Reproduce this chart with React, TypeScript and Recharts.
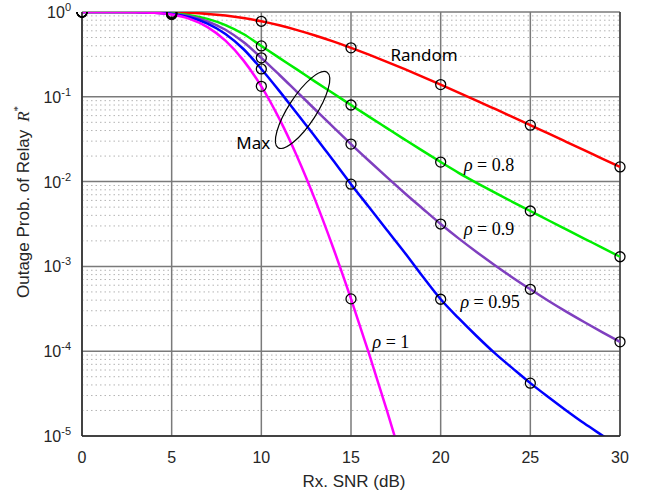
import React from "react";
import {
  ComposedChart,
  Line,
  Scatter,
  XAxis,
  YAxis,
  CartesianGrid,
  ReferenceLine,
  ReferenceDot,
  Customized,
} from "recharts";

// Rx. SNR in dB
const snr = [
  0, 1, 2, 3, 4, 5, 6, 7, 8, 9, 10, 11, 12, 13, 14, 15, 16, 17, 18, 19, 20,
  21, 22, 23, 24, 25, 26, 27, 28, 29, 30,
];

const randomP = [
  1, 1, 0.9999, 0.9995, 0.9974, 0.9913, 0.9769, 0.9499, 0.9072, 0.8487, 0.7769,
  0.6962, 0.6119, 0.5285, 0.4497, 0.3777, 0.3139, 0.2586, 0.2116, 0.1721,
  0.1393, 0.1123, 0.0903, 0.0724, 0.058, 0.0463, 0.037, 0.0295, 0.0235,
  0.0187, 0.0149,
];

const rho08 = [
  1, 1, 1, 0.998, 0.991, 0.966, 0.918, 0.83, 0.701, 0.55, 0.398, 0.288, 0.209,
  0.151, 0.11, 0.08, 0.0583, 0.0427, 0.0313, 0.023, 0.017, 0.0127, 0.00968,
  0.00745, 0.00578, 0.0045, 0.0035, 0.00273, 0.00213, 0.00167, 0.0013,
];

const rho09 = [
  1, 1, 1, 0.997, 0.987, 0.955, 0.891, 0.776, 0.617, 0.442, 0.288, 0.182,
  0.1135, 0.0708, 0.0442, 0.0277, 0.0176, 0.01127, 0.00729, 0.00479, 0.00316,
  0.00214, 0.00148, 0.00104, 0.000741, 0.000537, 0.000394, 0.000293, 0.000221,
  0.000168, 0.000129,
];

const rho095 = [
  1, 1, 1, 0.997, 0.984, 0.948, 0.867, 0.731, 0.551, 0.366, 0.213, 0.1175,
  0.0631, 0.0339, 0.0178, 0.00933, 0.00501, 0.00269, 0.00145, 0.000759,
  0.00041, 0.000245, 0.000151, 0.0000955, 0.0000631, 0.000042, 0.0000288,
  0.00002, 0.0000141, 0.0000102, 0.0000074,
];

const rho1 = [
  1, 1, 0.9994, 0.9957, 0.9798, 0.933, 0.829, 0.663, 0.459, 0.269, 0.1328,
  0.0552, 0.01965, 0.00609, 0.00167, 0.000414, 0.000094, 0.00002, 0.000004,
];

// simulation points (circles)
const markerSnr = [0, 5, 10, 15, 20, 25, 30];
const markerRandom = [1, 0.9913, 0.7769, 0.3777, 0.1393, 0.0463, 0.0149];
const markerRho08 = [1, 0.966, 0.398, 0.08, 0.017, 0.0045, 0.0013];
const markerRho09 = [1, 0.955, 0.288, 0.0277, 0.00316, 0.000537, 0.000129];
const markerRho095 = [1, 0.948, 0.213, 0.00933, 0.00041, 0.000042];
const markerRho1 = [1, 0.933, 0.1328, 0.000414];

const xTicks = [0, 5, 10, 15, 20, 25, 30];
const yTicks = [1e-5, 1e-4, 1e-3, 1e-2, 1e-1, 1];
const minorY = [
  2e-5, 3e-5, 4e-5, 5e-5, 6e-5, 7e-5, 8e-5, 9e-5,
  2e-4, 3e-4, 4e-4, 5e-4, 6e-4, 7e-4, 8e-4, 9e-4,
  2e-3, 3e-3, 4e-3, 5e-3, 6e-3, 7e-3, 8e-3, 9e-3,
  2e-2, 3e-2, 4e-2, 5e-2, 6e-2, 7e-2, 8e-2, 9e-2,
  0.2, 0.3, 0.4, 0.5, 0.6, 0.7, 0.8, 0.9,
];

const rhoLabels = [
  { x: 21.3, y: 0.0157, text: "0.8" },
  { x: 21.3, y: 0.00276, text: "0.9" },
  { x: 21.1, y: 0.00038, text: "0.95" },
  { x: 16.2, y: 0.000128, text: "1" },
];

const data = snr.map((s, i) => ({
  snr: s,
  random: randomP[i],
  rho08: rho08[i],
  rho09: rho09[i],
  rho095: rho095[i],
  rho1: i < rho1.length ? rho1[i] : null,
}));

const toPoints = (vals: number[]) =>
  vals.map((p, i) => ({ snr: markerSnr[i], p }));

const sansFont = "'Liberation Sans', Arial, sans-serif";
const serifFont = "'Liberation Serif', 'Times New Roman', serif";

const circle = (props: any) => (
  <circle cx={props.cx} cy={props.cy} r={5} fill="none" stroke="#000" strokeWidth={1.3} />
);

const YTick = (props: any) => {
  const { x, y, payload } = props;
  const e = Math.round(Math.log10(payload.value));
  return (
    <text x={x - 3} y={y + 6} textAnchor="end" fontFamily={sansFont} fontSize={16} fill="#262626">
      <tspan>10</tspan>
      <tspan dy={-7} fontSize={11}>{e}</tspan>
    </text>
  );
};

const XTick = (props: any) => {
  const { x, y, payload } = props;
  return (
    <text x={x} y={y + 19} textAnchor="middle" fontFamily={sansFont} fontSize={16} fill="#262626">
      {payload.value}
    </text>
  );
};

const series = [
  { key: "random", color: "#ff0000", markers: markerRandom },
  { key: "rho08", color: "#00ee00", markers: markerRho08 },
  { key: "rho09", color: "#7f3fbf", markers: markerRho09 },
  { key: "rho095", color: "#0000ff", markers: markerRho095 },
  { key: "rho1", color: "#ff00ff", markers: markerRho1 },
];

export default function App() {
  return (
    <div style={{ position: "absolute", left: 0, top: 0, background: "#fff" }}>
      <ComposedChart
        width={647}
        height={492}
        data={data}
        margin={{ top: 12, right: 27, left: 0, bottom: 0 }}
      >
        <CartesianGrid stroke="#7a7a7a" strokeWidth={1.5} />
        {minorY.map((v) => (
          <ReferenceLine key={v} y={v} stroke="#b4b4b4" strokeDasharray="1.5 3" />
        ))}
        <XAxis
          dataKey="snr"
          type="number"
          domain={[0, 30]}
          ticks={xTicks}
          tick={<XTick />}
          tickLine={false}
          axisLine={{ stroke: "#262626", strokeWidth: 1.5 }}
          height={56}
        />
        <YAxis
          type="number"
          scale="log"
          domain={[1e-5, 1]}
          allowDataOverflow
          ticks={yTicks}
          tick={<YTick />}
          tickLine={false}
          axisLine={{ stroke: "#262626", strokeWidth: 1.5 }}
          width={82}
        />
        <ReferenceLine x={30} stroke="#404040" strokeWidth={1.5} />
        {series.map((s) => (
          <Line
            key={s.key}
            dataKey={s.key}
            type="monotone"
            stroke={s.color}
            strokeWidth={2.5}
            dot={false}
            activeDot={false}
            connectNulls={false}
            isAnimationActive={false}
          />
        ))}
        {series.map((s) => (
          <Scatter
            key={s.key + "-m"}
            data={toPoints(s.markers)}
            dataKey="p"
            shape={circle}
            isAnimationActive={false}
          />
        ))}
        <ReferenceDot
          x={17.2}
          y={0.31}
          r={0}
          shape={(p: any) => (
            <text x={p.cx} y={p.cy + 6} fontFamily="'Noto Sans', sans-serif" fontSize={17} fill="#000">
              Random
            </text>
          )}
        />
        <ReferenceDot
          x={8.6}
          y={0.0285}
          r={0}
          shape={(p: any) => (
            <text x={p.cx} y={p.cy + 6} fontFamily="'Noto Sans', sans-serif" fontSize={17} fill="#000">
              Max
            </text>
          )}
        />
        <ReferenceDot
          x={12.3}
          y={0.07}
          r={0}
          shape={(p: any) => (
            <ellipse
              cx={p.cx}
              cy={p.cy}
              rx={45}
              ry={14}
              fill="none"
              stroke="#000"
              strokeWidth={1.2}
              transform={`rotate(-57 ${p.cx} ${p.cy})`}
            />
          )}
        />
        {rhoLabels.map((l) => (
          <ReferenceDot
            key={l.text}
            x={l.x}
            y={l.y}
            r={0}
            shape={(p: any) => (
              <text x={p.cx} y={p.cy + 6} fontFamily={serifFont} fontSize={18} fill="#000">
                <tspan fontStyle="italic">ρ</tspan>
                <tspan> = {l.text}</tspan>
              </text>
            )}
          />
        ))}
        <Customized
          component={() => (
            <g>
              <text x={354} y={487} textAnchor="middle" fontFamily={sansFont} fontSize={17} fill="#262626">
                Rx. SNR (dB)
              </text>
              <text
                transform="translate(29,298) rotate(-90)"
                fontFamily={sansFont}
                fontSize={17}
                fill="#262626"
              >
                Outage Prob. of Relay
                <tspan fontFamily={serifFont} fontStyle="italic" dx={8}>R</tspan>
                <tspan fontFamily={serifFont} fontSize={11} dy={-8}>*</tspan>
              </text>
            </g>
          )}
        />
      </ComposedChart>
    </div>
  );
}
